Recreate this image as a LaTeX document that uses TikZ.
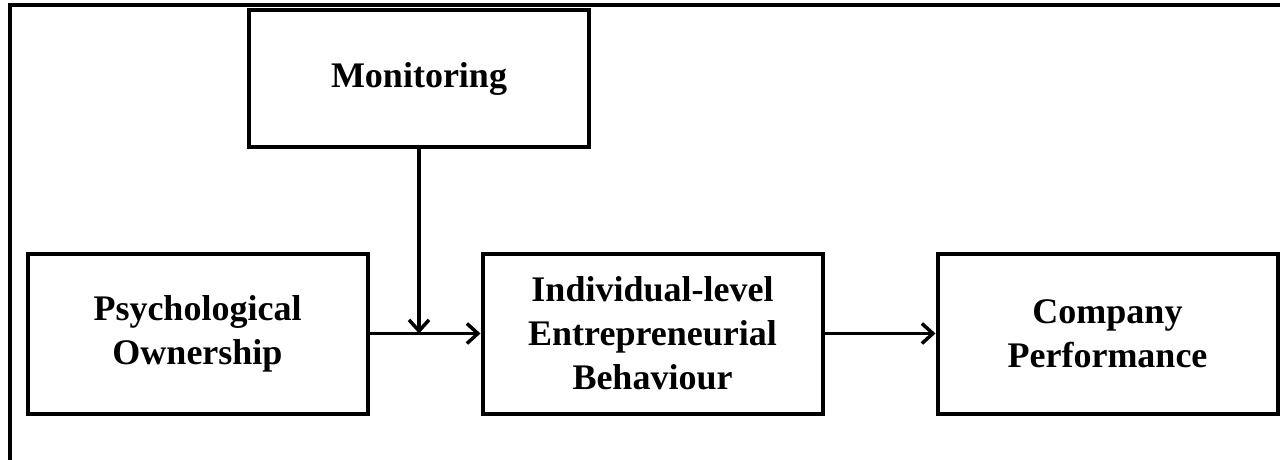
\documentclass[tikz,border=0pt]{standalone}
\usepackage{fontspec}
\setmainfont{Liberation Serif}
\usetikzlibrary{arrows.meta}
\tikzset{
	varbox/.style={draw, line width=4pt, minimum width=340pt, minimum height=160pt, inner sep=0pt, align=center, font=\fontsize{36}{44}\selectfont\bfseries},
	flow/.style={line width=3.5pt, -{Straight Barb[length=11pt,width=20pt]}}
}
\begin{document}
\begin{tikzpicture}[x=1pt,y=-1pt]
		\useasboundingbox (0,0) rectangle (1287,460);
		\draw[line width=3.5pt] (10,460)--(10,5)--(1280,5);
		\node[varbox, minimum height=136pt] (mon) at (419,78.5) {Monitoring};
		\node[varbox] (psy) at (197.5,333.5) {Psychological\\Ownership};
		\node[varbox] (ieb) at (652.5,333.5) {Individual-level\\Entrepreneurial\\Behaviour};
		\node[varbox] (cop) at (1107.5,333.5) {Company\\Performance};
		\draw[flow] (psy)--(ieb);
		\draw[flow] (ieb)--(cop);
		\draw[flow] (mon.south)--(mon.south |- psy.east);
	\end{tikzpicture}
\end{document}
